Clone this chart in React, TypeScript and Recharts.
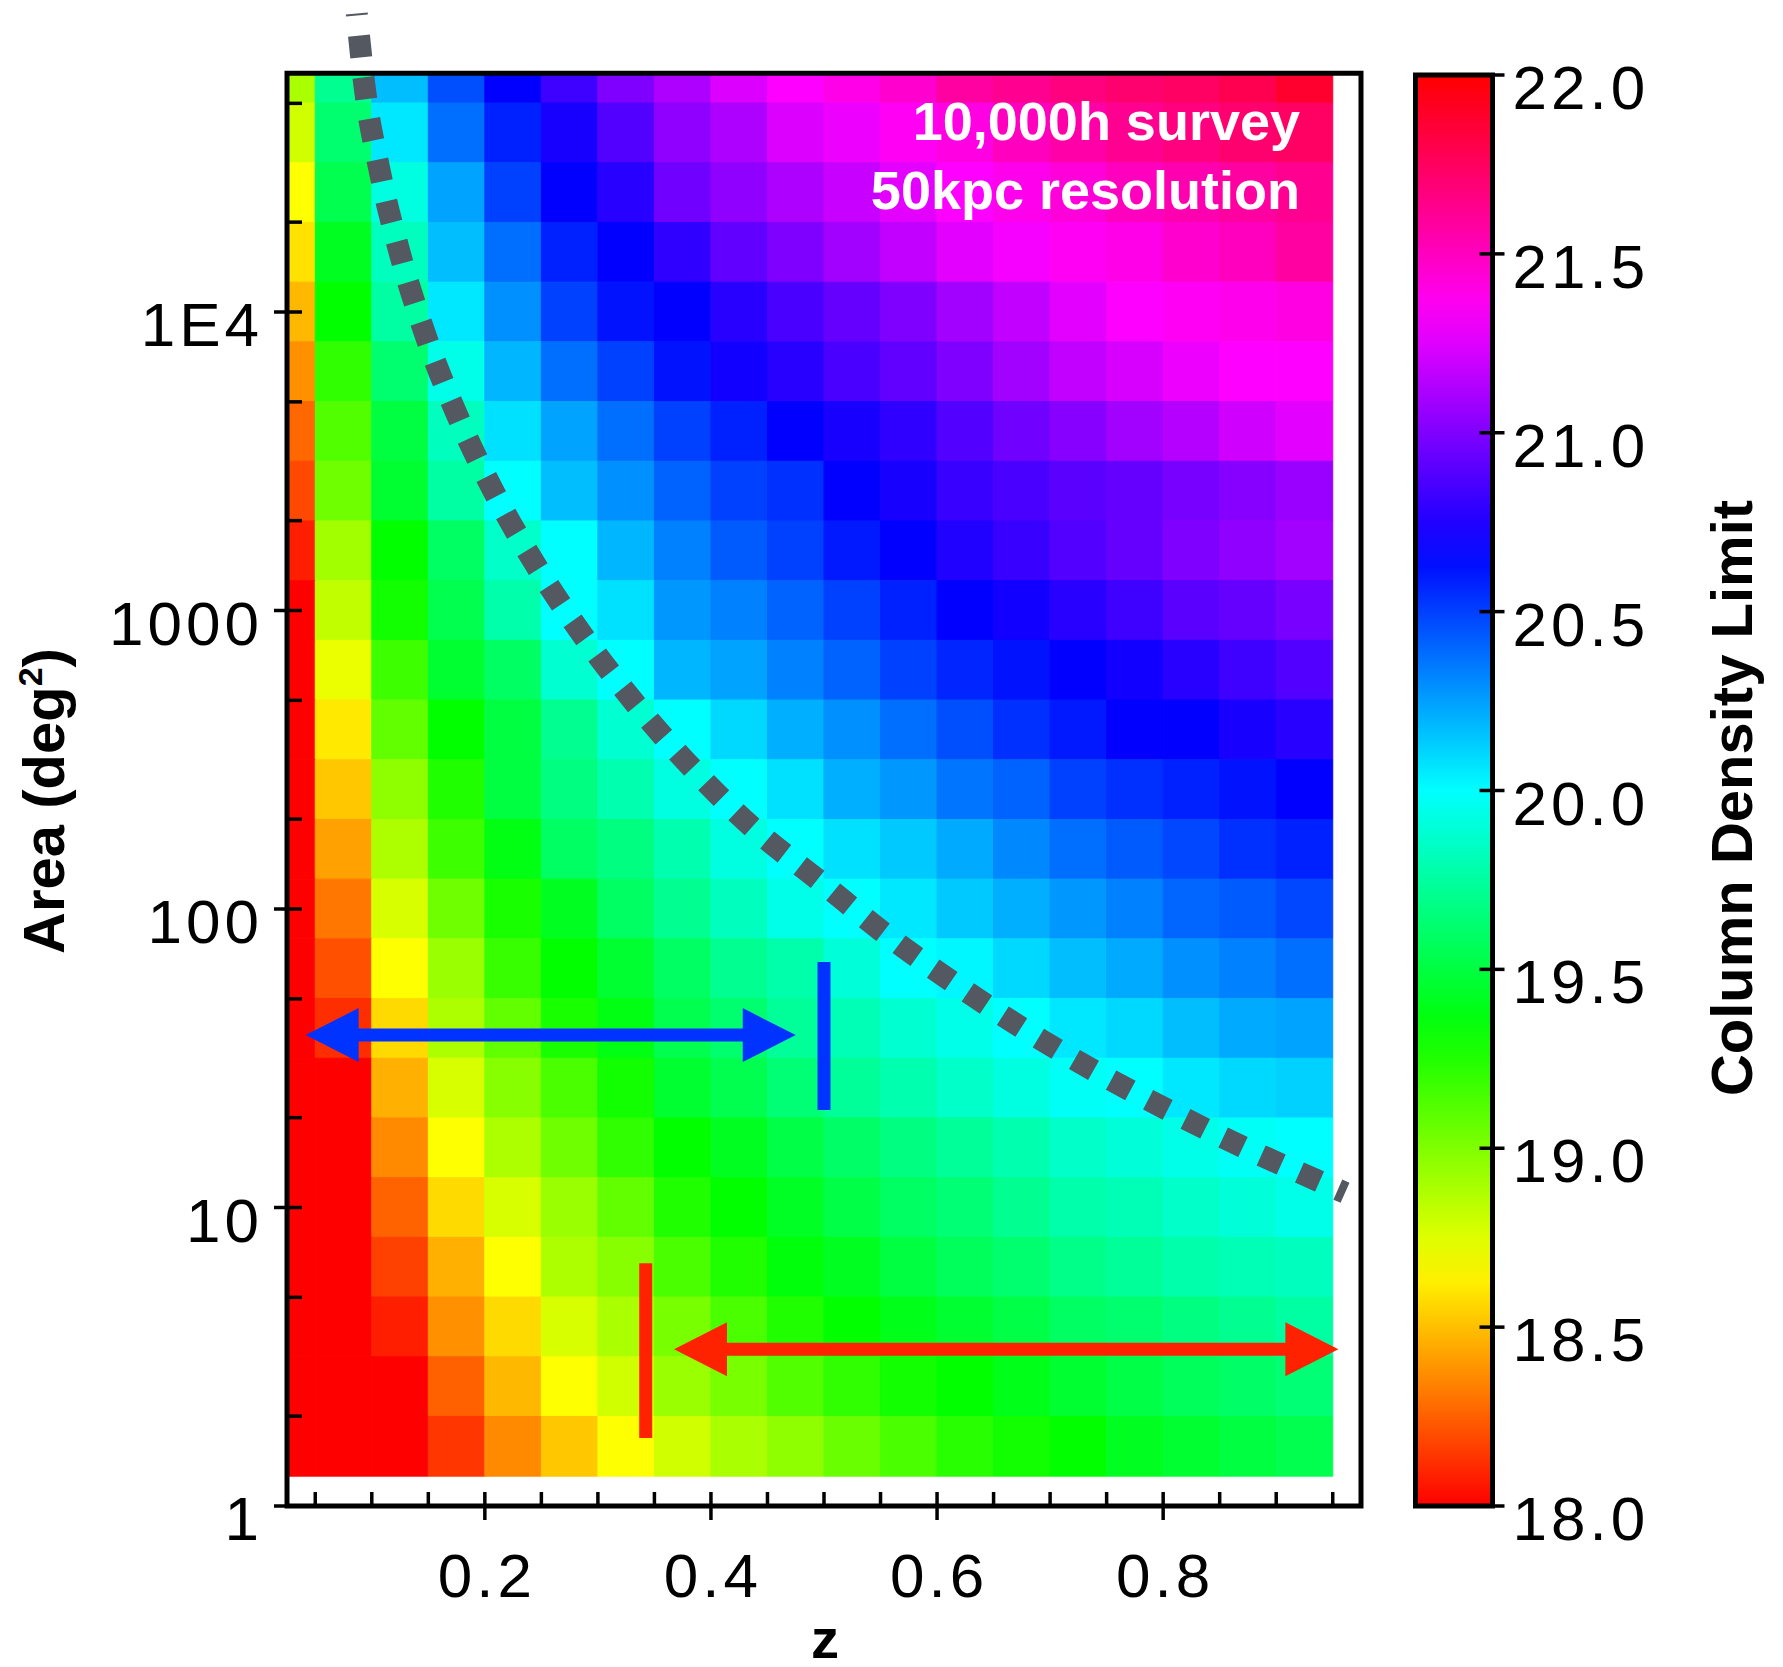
import React from "react";
import { ComposedChart, XAxis, YAxis, Line, Bar, ReferenceArea, ReferenceLine, ReferenceDot } from "recharts";

const FONT = '"Liberation Sans", Arial, Helvetica, sans-serif';

// z bin edges of the grid (first bin is cut by the axis)
const zEdges = [0.025, 0.05, 0.1, 0.15, 0.2, 0.25, 0.3, 0.35, 0.4, 0.45, 0.5, 0.55, 0.6, 0.65, 0.7, 0.75, 0.8, 0.85, 0.9, 0.95];
// area bin edges in deg^2 (0.2 dex rows, top row cut by the frame)
const areaEdges = [1.259, 1.995, 3.162, 5.012, 7.943, 12.59, 19.95, 31.62, 50.12, 79.43, 125.9, 199.5, 316.2, 501.2, 794.3, 1259, 1995, 3162, 5012, 7943, 12589, 19953, 31623, 50119, 63096];

// column density limit per cell, top row first, z increasing left to right
const limitGrid = [
  [18.89, 19.71, 20.17, 20.46, 20.67, 20.83, 21.0, 21.12, 21.24, 21.33, 21.39, 21.46, 21.58, 21.62, 21.67, 21.71, 21.74, 21.79, 21.88],
  [18.79, 19.62, 20.06, 20.38, 20.58, 20.73, 20.88, 21.04, 21.12, 21.24, 21.29, 21.36, 21.41, 21.5, 21.56, 21.62, 21.67, 21.71, 21.74],
  [18.67, 19.54, 19.92, 20.24, 20.5, 20.67, 20.77, 20.96, 21.04, 21.12, 21.19, 21.26, 21.33, 21.38, 21.43, 21.5, 21.54, 21.58, 21.62],
  [18.59, 19.42, 19.83, 20.17, 20.38, 20.58, 20.67, 20.79, 20.92, 21.0, 21.09, 21.17, 21.26, 21.31, 21.36, 21.39, 21.46, 21.5, 21.58],
  [18.48, 19.33, 19.76, 20.06, 20.29, 20.5, 20.62, 20.67, 20.77, 20.86, 20.93, 21.0, 21.09, 21.17, 21.26, 21.33, 21.36, 21.38, 21.41],
  [18.38, 19.21, 19.62, 19.94, 20.19, 20.38, 20.5, 20.62, 20.71, 20.77, 20.86, 20.92, 21.0, 21.09, 21.17, 21.23, 21.29, 21.33, 21.33],
  [18.27, 19.12, 19.5, 19.83, 20.08, 20.24, 20.38, 20.5, 20.58, 20.67, 20.73, 20.79, 20.88, 20.96, 21.02, 21.09, 21.14, 21.21, 21.26],
  [18.19, 19.04, 19.46, 19.76, 20.0, 20.17, 20.29, 20.41, 20.5, 20.54, 20.67, 20.73, 20.81, 20.86, 20.9, 20.93, 20.98, 21.02, 21.07],
  [18.08, 18.91, 19.33, 19.59, 19.86, 20.0, 20.19, 20.33, 20.43, 20.5, 20.6, 20.67, 20.75, 20.81, 20.88, 20.93, 21.0, 21.04, 21.09],
  [18.0, 18.83, 19.29, 19.54, 19.78, 20.0, 20.08, 20.27, 20.33, 20.41, 20.5, 20.58, 20.67, 20.71, 20.77, 20.83, 20.9, 20.93, 20.98],
  [18.0, 18.72, 19.17, 19.46, 19.59, 19.88, 20.0, 20.19, 20.24, 20.33, 20.41, 20.5, 20.57, 20.62, 20.67, 20.71, 20.77, 20.83, 20.88],
  [18.0, 18.61, 19.08, 19.33, 19.5, 19.71, 19.88, 20.0, 20.1, 20.21, 20.29, 20.38, 20.46, 20.54, 20.6, 20.67, 20.67, 20.73, 20.77],
  [18.0, 18.52, 18.96, 19.25, 19.5, 19.67, 19.79, 19.92, 20.0, 20.08, 20.21, 20.27, 20.36, 20.41, 20.5, 20.54, 20.58, 20.62, 20.67],
  [18.0, 18.42, 18.88, 19.17, 19.38, 19.59, 19.67, 19.79, 19.92, 20.0, 20.08, 20.14, 20.22, 20.31, 20.38, 20.43, 20.48, 20.54, 20.58],
  [18.0, 18.31, 18.77, 19.04, 19.27, 19.42, 19.59, 19.71, 19.83, 19.94, 20.0, 20.06, 20.14, 20.21, 20.27, 20.33, 20.4, 20.43, 20.48],
  [18.0, 18.21, 18.67, 18.93, 19.19, 19.33, 19.46, 19.59, 19.71, 19.78, 19.9, 20.0, 20.02, 20.1, 20.17, 20.22, 20.29, 20.33, 20.38],
  [18.0, 18.12, 18.57, 18.88, 19.08, 19.27, 19.38, 19.54, 19.62, 19.73, 19.81, 19.88, 19.94, 20.0, 20.06, 20.1, 20.17, 20.22, 20.24],
  [18.0, 18.0, 18.46, 18.77, 18.98, 19.14, 19.29, 19.46, 19.54, 19.64, 19.73, 19.79, 19.86, 19.92, 19.98, 20.0, 20.06, 20.1, 20.12],
  [18.0, 18.0, 18.36, 18.67, 18.88, 19.04, 19.21, 19.33, 19.42, 19.52, 19.6, 19.67, 19.73, 19.79, 19.86, 19.9, 19.94, 19.98, 20.0],
  [18.0, 18.0, 18.26, 18.57, 18.77, 18.93, 19.08, 19.25, 19.33, 19.43, 19.52, 19.59, 19.64, 19.71, 19.78, 19.81, 19.86, 19.9, 19.94],
  [18.0, 18.0, 18.17, 18.46, 18.67, 18.88, 18.98, 19.14, 19.25, 19.36, 19.42, 19.5, 19.57, 19.62, 19.69, 19.73, 19.78, 19.81, 19.83],
  [18.0, 18.0, 18.08, 18.38, 18.57, 18.77, 18.89, 19.02, 19.14, 19.25, 19.33, 19.4, 19.46, 19.52, 19.59, 19.62, 19.67, 19.71, 19.76],
  [18.0, 18.0, 18.0, 18.25, 18.48, 18.67, 18.79, 18.93, 19.02, 19.12, 19.21, 19.29, 19.33, 19.4, 19.46, 19.52, 19.57, 19.6, 19.64],
  [18.0, 18.0, 18.0, 18.14, 18.36, 18.52, 18.67, 18.79, 18.89, 18.96, 19.06, 19.14, 19.23, 19.29, 19.33, 19.42, 19.46, 19.5, 19.54],
];

const zTicks = [0.05, 0.1, 0.15, 0.2, 0.25, 0.3, 0.35, 0.4, 0.45, 0.5, 0.55, 0.6, 0.65, 0.7, 0.75, 0.8, 0.85, 0.9, 0.95];
const zLabels = [0.2, 0.4, 0.6, 0.8];
const areaTicks = [1, 2, 5, 10, 20, 50, 100, 200, 500, 1000, 2000, 5000, 10000, 20000, 50000];
const areaLabels = [1, 10, 100, 1000, 10000];
const cbarTicks = [18, 18.5, 19, 19.5, 20, 20.5, 21, 21.5, 22];
const cbarRange = [{ name: "limit", span: [18, 22] }];

// grey dotted boundary curve
const boundary = [
  { z: 0.0867, area: 100000 },
  { z: 0.0937, area: 56600 },
  { z: 0.107, area: 29700 },
  { z: 0.125, area: 15630 },
  { z: 0.1477, area: 8320 },
  { z: 0.1751, area: 4550 },
  { z: 0.2075, area: 2518 },
  { z: 0.245, area: 1420 },
  { z: 0.2868, area: 824 },
  { z: 0.3328, area: 489 },
  { z: 0.3821, area: 300 },
  { z: 0.4352, area: 190 },
  { z: 0.4974, area: 123 },
  { z: 0.5555, area: 81.8 },
  { z: 0.6153, area: 56.4 },
  { z: 0.6772, area: 39.5 },
  { z: 0.7406, area: 28.5 },
  { z: 0.8054, area: 21.1 },
  { z: 0.8713, area: 15.9 },
  { z: 0.9367, area: 12.3 },
  { z: 0.9609, area: 11.2 },
];

// annotations: [z from, z to] at an area, and the marker bars
const blueSpan = [0.0415, 0.475];
const blueArea = 37.8;
const blueBarZ = 0.5;
const blueBarAreas = [21.2, 66.5];
const redSpan = [0.3673, 0.955];
const redArea = 3.35;
const redBarZ = 0.3423;
const redBarAreas = [1.69, 6.5];

const BLUE = "#0033ff";
const RED = "#ff2200";

function limitColor(v: number) {
  const h = Math.min(360, Math.max(0, (v - 18) * 90));
  return `hsl(${h.toFixed(1)}, 100%, 50%)`;
}

const labelStyle = { fontFamily: FONT, fontSize: 62, letterSpacing: 4, fill: "#000" };

function ZTick(props: any) {
  const { x, y, payload } = props;
  const major = zLabels.some((l) => Math.abs(l - payload.value) < 1e-6);
  return (
    <g>
      <line x1={x} x2={x} y1={major ? y + 14 : y} y2={y - 14} stroke="#000" strokeWidth={3.5} />
      {major && (
        <text x={x + 2} y={y + 91} textAnchor="middle" style={labelStyle}>
          {payload.value}
        </text>
      )}
    </g>
  );
}

function AreaTick(props: any) {
  const { x, y, payload } = props;
  const major = areaLabels.includes(payload.value);
  return (
    <g>
      <line x1={major ? x - 13 : x} x2={x + 15} y1={y} y2={y} stroke="#000" strokeWidth={3.5} />
      {major && (
        <text x={x - 24} y={y + 34} textAnchor="end" style={labelStyle}>
          {payload.value === 10000 ? "1E4" : payload.value}
        </text>
      )}
    </g>
  );
}

function CbarTick(props: any) {
  const { x, y, payload } = props;
  return (
    <g>
      <line x1={x - 13} x2={x + 12} y1={y} y2={y} stroke="#000" strokeWidth={3.5} />
      <text x={x + 20} y={y + 34} textAnchor="start" style={labelStyle}>
        {Number(payload.value).toFixed(1)}
      </text>
    </g>
  );
}

const headLeft = (color: string) => (p: any) => (
  <polygon points={`${p.cx},${p.cy} ${p.cx + 53},${p.cy - 27} ${p.cx + 53},${p.cy + 27}`} fill={color} />
);
const headRight = (color: string) => (p: any) => (
  <polygon points={`${p.cx},${p.cy} ${p.cx - 53},${p.cy - 27} ${p.cx - 53},${p.cy + 27}`} fill={color} />
);

const rotated = {
  position: "absolute" as const,
  transform: "translate(-50%, -50%) rotate(-90deg)",
  whiteSpace: "nowrap" as const,
  fontWeight: 700,
  fontSize: 58,
  lineHeight: "58px",
  fontFamily: FONT,
  color: "#000",
};

export default function App() {
  const nRows = limitGrid.length;
  const cells = limitGrid.flatMap((row, ri) =>
    row.map((v, ci) => (
      <ReferenceArea
        key={`c-${ri}-${ci}`}
        x1={zEdges[ci]}
        x2={zEdges[ci + 1]}
        y1={areaEdges[nRows - 1 - ri]}
        y2={areaEdges[nRows - ri]}
        fill={limitColor(v)}
        fillOpacity={1}
        stroke={limitColor(v)}
        strokeWidth={1}
      />
    ))
  );

  const stops = Array.from({ length: 33 }, (_, i) => 22 - i * 0.125);

  return (
    <div style={{ position: "absolute", left: 0, top: 0, width: 1783, height: 1667, background: "#fff", fontFamily: FONT }}>
      <div style={{ position: "absolute", left: 0, top: 0 }}>
        <ComposedChart width={1400} height={1667} margin={{ top: 13.5, right: 39, bottom: 0, left: 0 }}>
          <XAxis
            type="number"
            dataKey="z"
            domain={[0.025, 0.975]}
            ticks={zTicks}
            interval={0}
            tickSize={0}
            tickMargin={0}
            axisLine={false}
            tickLine={false}
            height={161}
            tick={<ZTick />}
          />
          <YAxis
            type="number"
            scale="log"
            domain={[1, 100000]}
            ticks={areaTicks}
            interval={0}
            tickSize={0}
            tickMargin={0}
            axisLine={false}
            tickLine={false}
            width={287}
            tick={<AreaTick />}
          />
          {cells}
          <ReferenceArea
            x1={0.025}
            x2={0.975}
            y1={1}
            y2={areaEdges[areaEdges.length - 1]}
            fill="none"
            stroke="#000"
            strokeWidth={5}
          />
          <Line
            data={boundary}
            dataKey="area"
            type="monotone"
            stroke="#545860"
            strokeWidth={22}
            strokeDasharray="22 20"
            strokeDashoffset={20}
            dot={false}
            activeDot={false}
            isAnimationActive={false}
          />
          <ReferenceLine
            segment={[{ x: blueSpan[0] + 0.02, y: blueArea }, { x: blueSpan[1] - 0.02, y: blueArea }]}
            stroke={BLUE}
            strokeWidth={13}
          />
          <ReferenceDot x={blueSpan[0]} y={blueArea} r={1} shape={headLeft(BLUE)} />
          <ReferenceDot x={blueSpan[1]} y={blueArea} r={1} shape={headRight(BLUE)} />
          <ReferenceLine
            segment={[{ x: blueBarZ, y: blueBarAreas[0] }, { x: blueBarZ, y: blueBarAreas[1] }]}
            stroke={BLUE}
            strokeWidth={13}
          />
          <ReferenceLine
            segment={[{ x: redSpan[0] + 0.02, y: redArea }, { x: redSpan[1] - 0.02, y: redArea }]}
            stroke={RED}
            strokeWidth={13}
          />
          <ReferenceDot x={redSpan[0]} y={redArea} r={1} shape={headLeft(RED)} />
          <ReferenceDot x={redSpan[1]} y={redArea} r={1} shape={headRight(RED)} />
          <ReferenceLine
            segment={[{ x: redBarZ, y: redBarAreas[0] }, { x: redBarZ, y: redBarAreas[1] }]}
            stroke={RED}
            strokeWidth={13}
          />
        </ComposedChart>
      </div>

      <div style={{ position: "absolute", left: 1400, top: 0 }}>
        <ComposedChart
          width={383}
          height={1667}
          data={cbarRange}
          barCategoryGap={0}
          barGap={0}
          margin={{ top: 75, right: 0, bottom: 161, left: 15.5 }}
        >
          <defs>
            <linearGradient id="cbarGrad" x1="0" y1="0" x2="0" y2="1">
              {stops.map((v, i) => (
                <stop key={i} offset={`${(i / (stops.length - 1)) * 100}%`} stopColor={limitColor(v)} />
              ))}
            </linearGradient>
          </defs>
          <XAxis dataKey="name" hide />
          <YAxis
            orientation="right"
            type="number"
            domain={[18, 22]}
            ticks={cbarTicks}
            interval={0}
            tickSize={0}
            tickMargin={0}
            axisLine={false}
            tickLine={false}
            width={290.5}
            tick={<CbarTick />}
          />
          <Bar dataKey="span" fill="url(#cbarGrad)" stroke="#000" strokeWidth={5} isAnimationActive={false} />
        </ComposedChart>
      </div>

      <div
        style={{
          position: "absolute",
          left: 0,
          top: 86.8,
          width: 1300,
          textAlign: "right",
          color: "#fff",
          fontWeight: 700,
          fontSize: 54,
          lineHeight: "69px",
          fontFamily: FONT,
        }}
      >
        <div>10,000h survey</div>
        <div>50kpc resolution</div>
      </div>

      <div style={{ ...rotated, left: 48, top: 801 }}>
        Area (deg
        <span style={{ fontSize: 34, position: "relative", top: -22 }}>2</span>)
      </div>
      <div style={{ ...rotated, left: 1732, top: 798 }}>Column Density Limit</div>
      <div
        style={{
          position: "absolute",
          left: 825,
          top: 1611,
          transform: "translateX(-50%)",
          fontWeight: 700,
          fontSize: 56,
          lineHeight: "56px",
          fontFamily: FONT,
        }}
      >
        z
      </div>
    </div>
  );
}
